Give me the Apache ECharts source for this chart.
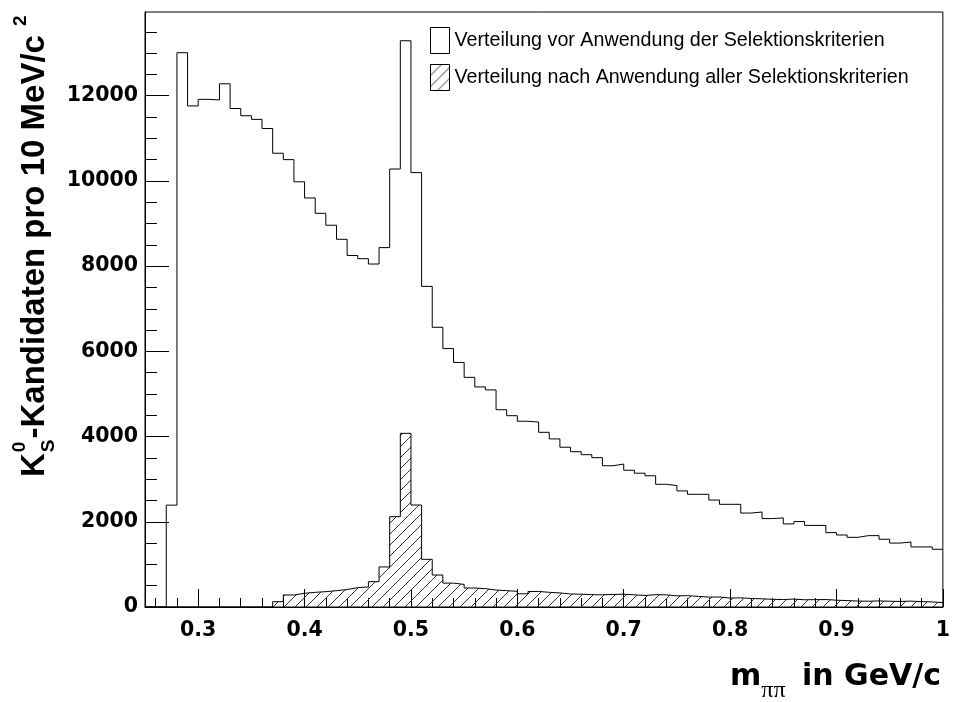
<!DOCTYPE html>
<html><head><meta charset="utf-8">
<script src="https://cdn.jsdelivr.net/npm/echarts@6/dist/echarts.min.js"></script>
<style>html,body{margin:0;padding:0;background:#fff}#c{width:953px;height:702px}</style>
</head><body><div id="c"></div>
<script>
// ---- data ----
const binStart = 0.25, binWidth = 0.01;
const countsBefore = [0,0,2390,13010,11760,11915,11900,12280,11700,11530,
  11445,11230,10650,10500,9980,9600,9240,8960,8630,8250,
  8175,8050,8435,10280,13290,10195,7525,6565,6065,5740,
  5390,5165,5095,4630,4490,4360,4340,4100,3945,3750,
  3645,3575,3505,3315,3355,3210,3140,3080,2880,2850,
  2725,2645,2645,2510,2410,2410,2205,2230,2075,2090,
  1950,2005,1915,1915,1745,1690,1635,1675,1675,1590,
  1500,1525,1410,1410,1355];
const countsAfter = [0,0,0,0,0,0,0,0,0,0,
  0,0,125,282,321,344,360,383,410,454,
  470,595,940,2120,4076,2394,1119,751,560,530,
  446,430,399,383,368,310,365,345,330,305,
  300,290,285,295,300,285,270,290,285,262,
  265,250,232,235,210,215,200,192,180,176,
  185,170,172,175,160,150,140,135,142,135,
  130,138,125,120,102];
const xMajorTicks = [0.3,0.4,0.5,0.6,0.7,0.8,0.9,1.0];
const xMinorTicks = [0.26,0.28,0.32,0.34,0.36,0.38,0.42,0.44,0.46,0.48,0.52,0.54,0.56,0.58,
  0.62,0.64,0.66,0.68,0.72,0.74,0.76,0.78,0.82,0.84,0.86,0.88,0.92,0.94,0.96,0.98];
const yMajorTicks = [0,2000,4000,6000,8000,10000,12000];
const yMinorTicks = [500,1000,1500,2500,3000,3500,4500,5000,5500,6500,7000,7500,
  8500,9000,9500,10500,11000,11500,12500,13000,13500];
const legendNames = ['Verteilung vor Anwendung der Selektionskriterien',
  'Verteilung nach Anwendung aller Selektionskriterien'];

function stepData(counts){
  const d=[];
  for(let i=0;i<counts.length;i++) d.push([+(binStart+i*binWidth).toFixed(2), counts[i]]);
  d.push([+(binStart+counts.length*binWidth).toFixed(2), counts[counts.length-1]]);
  return d;
}
function makeHatch(){
  const s=11, c=document.createElement('canvas'); c.width=s; c.height=s;
  const g=c.getContext('2d'); g.strokeStyle='#333'; g.lineWidth=1;
  g.beginPath();
  g.moveTo(-2,s+2); g.lineTo(s+2,-2);
  g.moveTo(-2,2); g.lineTo(2,-2);
  g.moveTo(s-2,s+2); g.lineTo(s+2,s-2);
  g.stroke();
  return c;
}
const hatch = makeHatch();
const mctx = document.createElement('canvas').getContext('2d');
function tw(font,s){ mctx.font=font; return mctx.measureText(s).width; }
const SANS = '"Liberation Sans", Arial, sans-serif';
const DV = '"DejaVu Sans", sans-serif';
function txt(x, baseline, text, size, family, weight, align){
  return {type:'text', x:x, y:baseline-0.31*size, silent:true,
    style:{text:text, fontSize:size, fontFamily:family, fontWeight:weight||'bold',
      fill:'#000', align:align||'left', verticalAlign:'middle'}};
}
// y title pieces
const yT=33, yS=19;
const wK = tw(`bold ${yT}px ${SANS}`,'K');
const wSub = Math.max(tw(`bold ${yS}px ${SANS}`,'S'), tw(`bold ${yS}px ${SANS}`,'0'));
const yMain = '-Kandidaten pro 10 MeV/c';
const wMain = tw(`bold ${yT}px ${SANS}`, yMain);
const xMainStart = wK+1+wSub+1;
const yTitle = {type:'group', x:45, y:477, rotation:Math.PI/2, silent:true, children:[
  txt(0,0,'K',yT,SANS),
  txt(wK+1,-19,'0',yS,SANS),
  txt(wK+1,10,'S',yS,SANS),
  txt(xMainStart,0,yMain,yT,SANS),
  txt(xMainStart+wMain+9,-18,'2',yS,SANS)
]};
// x title pieces
const xT=30;
const wm = tw(`bold ${xT}px ${DV}`,'m');
const xTitle = {type:'group', x:0, y:0, silent:true, children:[
  txt(730,687,'m',xT,DV),
  txt(730+wm,698,'\u03c0\u03c0',24,'"Liberation Serif", serif','normal'),
  txt(941,687,'in GeV/c',xT,DV,'bold','right')
]};

const lblStyle = {fontFamily:DV, fontWeight:'bold', fontSize:20.5, color:'#000'};
const chart = echarts.init(document.getElementById('c'), null, {renderer:'canvas'});
chart.setOption({
  animation:false,
  backgroundColor:'#fff',
  grid:{left:145, top:12, width:802, height:595, show:true, borderColor:'#000', borderWidth:1, containLabel:false},
  xAxis:[
    {type:'value', min:0.25, max:1.0, position:'bottom',
      axisLine:{show:true, onZero:false, lineStyle:{color:'#000', width:1}},
      axisTick:{show:true, inside:true, length:18, customValues:xMajorTicks, lineStyle:{color:'#000', width:1}},
      axisLabel:Object.assign({customValues:xMajorTicks, margin:13,
        formatter:v=>Math.abs(v-1)<1e-9?'1':v.toFixed(1)}, lblStyle),
      splitLine:{show:false}},
    {type:'value', min:0.25, max:1.0, position:'bottom',
      axisLine:{show:false},
      axisTick:{show:true, inside:true, length:9, customValues:xMinorTicks, lineStyle:{color:'#000', width:1}},
      axisLabel:{show:false}, splitLine:{show:false}}
  ],
  yAxis:[
    {type:'value', min:0, max:13965, position:'left',
      axisLine:{show:true, onZero:false, lineStyle:{color:'#000', width:1}},
      axisTick:{show:true, inside:true, length:24, customValues:yMajorTicks, lineStyle:{color:'#000', width:1}},
      axisLabel:Object.assign({customValues:yMajorTicks, margin:7, formatter:v=>String(v)}, lblStyle),
      splitLine:{show:false}},
    {type:'value', min:0, max:13965, position:'left',
      axisLine:{show:false},
      axisTick:{show:true, inside:true, length:12, customValues:yMinorTicks, lineStyle:{color:'#000', width:1}},
      axisLabel:{show:false}, splitLine:{show:false}}
  ],
  legend:{left:430, top:27, orient:'vertical', itemWidth:19, itemHeight:26, itemGap:10, padding:0,
    selectedMode:false,
    textStyle:{fontFamily:SANS, fontSize:19.7, color:'#000'},
    data:[
      {name:legendNames[0], icon:'rect', itemStyle:{color:'#fff', borderColor:'#000', borderWidth:1}},
      {name:legendNames[1], icon:'rect', itemStyle:{color:{image:hatch, repeat:'repeat'}, borderColor:'#000', borderWidth:1}}
    ]},
  series:[
    {name:legendNames[0], type:'line', step:'end', xAxisIndex:0, yAxisIndex:0,
      data:stepData(countsBefore), symbol:'none', lineStyle:{color:'#000', width:1}, itemStyle:{color:'#000'}},
    {name:legendNames[1], type:'line', step:'end', xAxisIndex:0, yAxisIndex:0,
      data:stepData(countsAfter), symbol:'none', lineStyle:{color:'#000', width:1}, itemStyle:{color:'#000'},
      areaStyle:{color:{image:hatch, repeat:'repeat'}, opacity:1}}
  ],
  graphic:[yTitle, xTitle]
});
</script></body></html>
